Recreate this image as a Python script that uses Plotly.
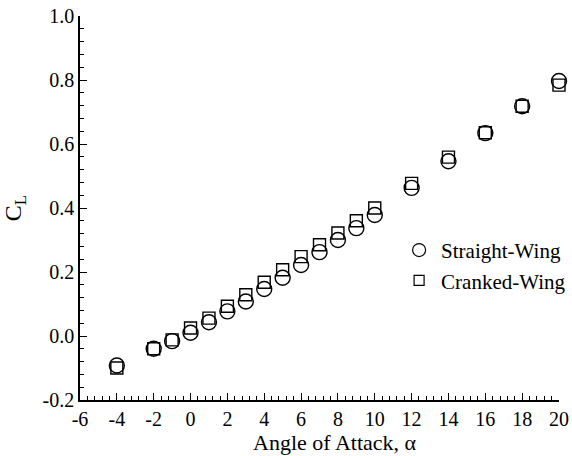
import plotly.graph_objects as go

alpha = [-4, -2, -1, 0, 1, 2, 3, 4, 5, 6, 7, 8, 9, 10, 12, 14, 16, 18, 20]
cl_straight = [-0.092, -0.040, -0.016, 0.010, 0.043, 0.077, 0.108, 0.147, 0.182, 0.222,
               0.262, 0.300, 0.337, 0.378, 0.463, 0.546, 0.634, 0.718, 0.797]
cl_cranked = [-0.100, -0.040, -0.012, 0.025, 0.056, 0.093, 0.129, 0.168, 0.207, 0.248,
              0.285, 0.322, 0.360, 0.400, 0.477, 0.559, 0.635, 0.718, 0.784]

series_names = ["Straight-Wing", "Cranked-Wing"]
x_ticks = list(range(-6, 21, 2))
y_ticks = [-0.2, 0.0, 0.2, 0.4, 0.6, 0.8, 1.0]

FONT = "Liberation Serif, Times New Roman, serif"

fig = go.Figure()
fig.add_trace(go.Scatter(
    x=alpha, y=cl_straight, mode="markers", showlegend=False, cliponaxis=False,
    marker=dict(symbol="circle-open", size=15, color="black", line=dict(width=1.4, color="black")),
))
fig.add_trace(go.Scatter(
    x=alpha, y=cl_cranked, mode="markers", showlegend=False, cliponaxis=False,
    marker=dict(symbol="square-open", size=12, color="black", line=dict(width=1.4, color="black")),
))
# legend-only entries with smaller symbols, as in the reference
fig.add_trace(go.Scatter(
    x=[None], y=[None], mode="markers", name=series_names[0],
    marker=dict(symbol="circle-open", size=13, color="black", line=dict(width=1.2, color="black")),
))
fig.add_trace(go.Scatter(
    x=[None], y=[None], mode="markers", name=series_names[1],
    marker=dict(symbol="square-open", size=10, color="black", line=dict(width=1.2, color="black")),
))

axis_common = dict(
    showgrid=False, zeroline=False, showline=True, linecolor="black", linewidth=1.6,
    ticks="inside", ticklen=7, tickwidth=1.2, tickcolor="black",
    tickfont=dict(family=FONT, size=20, color="black"),
    mirror=False, automargin=False,
)

fig.update_xaxes(
    range=[-6, 20], tickvals=x_ticks, ticktext=[str(v) for v in x_ticks],
    minor=dict(dtick=0.4, tick0=-6, ticks="inside", ticklen=4, tickwidth=1, tickcolor="black"),
    **axis_common,
)
fig.update_yaxes(
    range=[-0.2, 1.0], tickvals=y_ticks, ticktext=[f"{v:.1f}" for v in y_ticks],
    title=dict(text="C<sub>L</sub>", font=dict(family=FONT, size=24, color="black"), standoff=16),
    minor=dict(dtick=0.04, tick0=-0.2, ticks="inside", ticklen=4, tickwidth=1, tickcolor="black"),
    **axis_common,
)

# x-axis title as an annotation for exact placement
fig.add_annotation(
    text="Angle of Attack, α", xref="paper", yref="paper",
    x=0.532, y=-42 / 384, xanchor="center", yanchor="middle", showarrow=False,
    font=dict(family=FONT, size=22, color="black"),
)

fig.update_layout(
    width=572, height=456,
    margin=dict(l=80, r=13, t=16, b=56, autoexpand=False),
    paper_bgcolor="white", plot_bgcolor="white",
    font=dict(family=FONT, size=20, color="black"),
    legend=dict(
        x=0.662, y=0.443, xanchor="left", yanchor="top",
        bgcolor="rgba(0,0,0,0)", font=dict(family=FONT, size=21, color="black"),
        itemwidth=34, tracegroupgap=0,
    ),
)

fig.write_html("out.html")
